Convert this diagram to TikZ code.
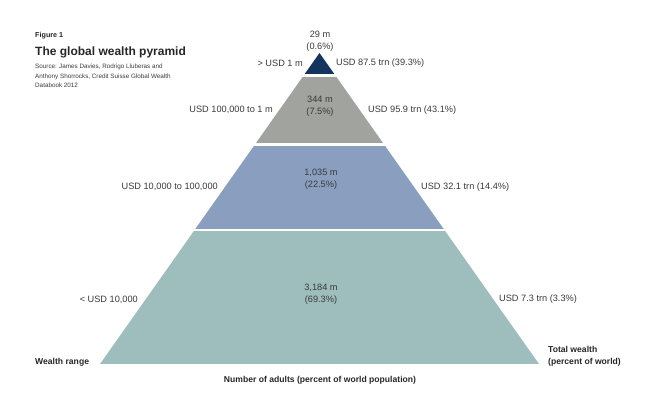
\documentclass[tikz,border=0pt]{standalone}
\usepackage{fontspec}
\setmainfont{Liberation Sans}
\definecolor{tipblue}{HTML}{12345E}
\definecolor{layergray}{HTML}{A0A39E}
\definecolor{layerblue}{HTML}{8A9FC0}
\definecolor{layerteal}{HTML}{9EBDBD}
\definecolor{labelgray}{HTML}{3A3A3A}
\tikzset{
  lbl/.style={font=\fontsize{9.2}{12}\selectfont,text=labelgray,inner sep=0pt},
  mid/.style={lbl,align=center},
  axislbl/.style={font=\fontsize{8.6}{12}\selectfont\bfseries,text=black!85,inner sep=0pt}
}
\begin{document}
\begin{tikzpicture}[x=1pt,y=-1pt]
  \useasboundingbox (0,0) rectangle (651,395);
  % pyramid, cut into four bands
  \coordinate (apex) at (319.5,53);
  \coordinate (baseL) at (100,364);
  \coordinate (baseR) at (539,364);
  \begin{scope}
    \clip (apex) -- (baseL) -- (baseR) -- cycle;
    \fill[tipblue] (0,50) rectangle (651,74.5);
    \fill[layergray] (0,77.5) rectangle (651,143);
    \fill[layerblue] (0,146) rectangle (651,229);
    \fill[layerteal] (0,231.5) rectangle (651,364);
  \end{scope}
  % heading
  \node[anchor=west,inner sep=0pt,font=\fontsize{7.2}{9}\selectfont\bfseries,text=black!85] (fig) at (35,36) {Figure 1};
  \node[anchor=west,inner sep=0pt,font=\fontsize{12}{14}\selectfont\bfseries,text=black!85] (title) at (35,52) {The global wealth pyramid};
  \node[anchor=north west,inner sep=0pt,align=left,font=\fontsize{6.3}{9.5}\selectfont,text=labelgray] (source) at (35,64)
    {Source: James Davies, Rodrigo Lluberas and\\Anthony Shorrocks, Credit Suisse Global Wealth\\Databook 2012};
  % adults per band
  \node[mid] (n1) at (320,41) {29 m\\(0.6\%)};
  \node[mid] (n2) at (320,106.5) {344 m\\(7.5\%)};
  \node[mid] (n3) at (321,179.5) {1,035 m\\(22.5\%)};
  \node[mid] (n4) at (321,294.5) {3,184 m\\(69.3\%)};
  % wealth ranges
  \node[lbl,anchor=east] (r1) at (303,63) {> USD 1 m};
  \node[lbl,anchor=east] (r2) at (273,110) {USD 100,000 to 1 m};
  \node[lbl,anchor=east] (r3) at (218,187) {USD 10,000 to 100,000};
  \node[lbl,anchor=east] (r4) at (138,300) {< USD 10,000};
  % total wealth
  \node[lbl,anchor=west] (w1) at (336,63) {USD 87.5 trn (39.3\%)};
  \node[lbl,anchor=west] (w2) at (368,110) {USD 95.9 trn (43.1\%)};
  \node[lbl,anchor=west] (w3) at (421,187) {USD 32.1 trn (14.4\%)};
  \node[lbl,anchor=west] (w4) at (499,299) {USD 7.3 trn (3.3\%)};
  % axis captions
  \node[axislbl,anchor=west] (range) at (35,362) {Wealth range};
  \node[axislbl,anchor=west,align=left] (total) at (548,356) {Total wealth\\(percent of world)};
  \node[axislbl] (adults) at (320,380) {Number of adults (percent of world population)};
\end{tikzpicture}
\end{document}
